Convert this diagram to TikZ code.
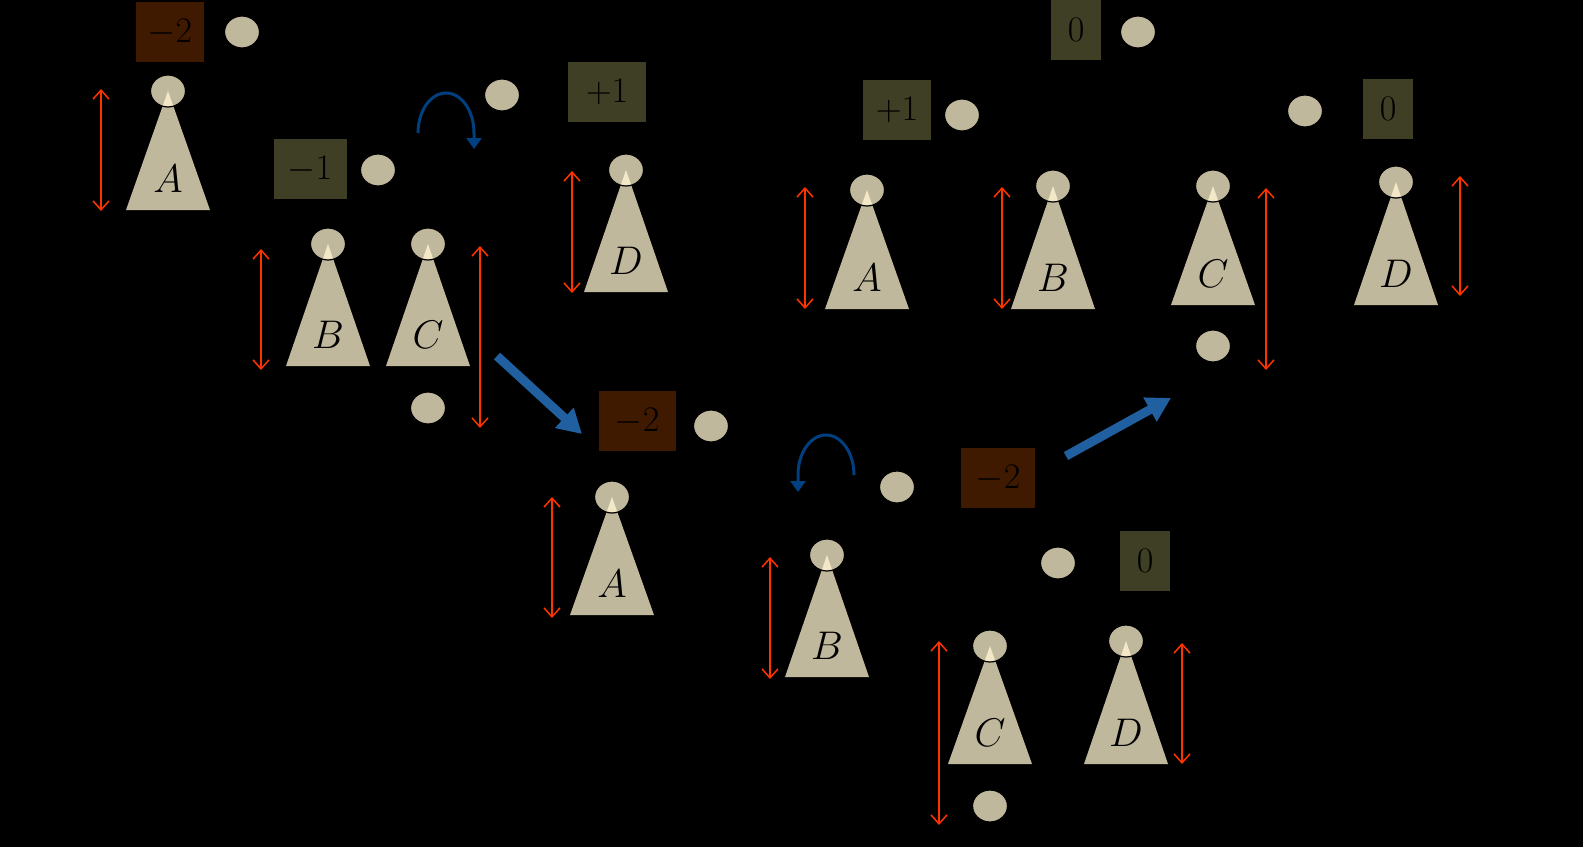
\documentclass[tikz,border=0pt]{standalone}
\usepackage{fix-cm}
\usetikzlibrary{arrows.meta,shapes.geometric}
\definecolor{beige}{RGB}{192,184,156}
\definecolor{cream}{RGB}{242,232,200}
\definecolor{brownc}{RGB}{64,26,0}
\definecolor{olivec}{RGB}{63,63,38}
\definecolor{redc}{RGB}{255,51,0}
\definecolor{bluedark}{RGB}{0,63,128}
\definecolor{bluethick}{RGB}{32,96,160}
\tikzset{
 circ/.style={ellipse, fill=beige, draw=black, line width=1.2pt, minimum width=35pt, minimum height=32pt, inner sep=0pt},
 lab/.style={inner sep=0pt, text=black, font=\fontsize{36}{40}\selectfont},
 treelab/.style={inner sep=0pt, text=black, font=\fontsize{40}{44}\selectfont},
 bal/.style={lab, minimum height=60pt},
 hgt/.style={draw=redc, line width=1.5pt, {Straight Barb[length=9pt,width=16pt]}-{Straight Barb[length=9pt,width=16pt]}},
 turnarrow/.style={draw=bluedark, line width=3pt, -{Triangle[length=11pt,width=15pt]}},
 bigarrow/.style={draw=bluethick, line width=9pt, -{Triangle[length=24pt,width=26pt]}},
}
\newcommand\subtr[5]{%
 \fill[beige] (#2,#3) -- ({#2-42},#4) -- ({#2+42},#4) -- cycle;
 \node[circ] (#1) at (#2,#3) {};
 \begin{scope}
  \clip (#2,#3) ellipse[x radius=16.5, y radius=15];
  \fill[cream] (#2,#3) -- ({#2-42},#4) -- ({#2+42},#4) -- cycle;
 \end{scope}
 \node[treelab] (#1l) at (#2,{#4-31}) {$#5$};
}
\begin{document}
\begin{tikzpicture}[x=1pt,y=-1pt]
\fill[black] (0,0) rectangle (1583,847);
\useasboundingbox (0,0) rectangle (1583,847);

% ---------- tree 1 ----------
\node[circ] (r1) at (242,32) {};
\node[bal, fill=brownc, minimum width=68pt] (r1b) at (170,32) {$-2$};
\subtr{a1}{168}{91}{210}{A}
\node[circ] (n1) at (378,170) {};
\node[bal, fill=olivec, minimum width=73pt] (n1b) at (310,169) {$-1$};
\subtr{b1}{328}{244}{366}{B}
\subtr{c1}{428}{244}{366}{C}
\node[circ] (x1) at (428,408) {};
\node[circ] (m1) at (502,95) {};
\node[bal, fill=olivec, minimum width=78pt] (m1b) at (607,92) {$+1$};
\subtr{d1}{626}{170}{292}{D}
\draw[hgt] (101,89) -- (101,211);
\draw[hgt] (261,249) -- (261,370);
\draw[hgt] (480,246) -- (480,428);
\draw[hgt] (572,171) -- (572,293);
\draw[turnarrow] (418,133) arc[start angle=180, end angle=360, x radius=28, y radius=40] -- (474,149);
\coordinate (s1) at (497,356);
\coordinate (t1) at (582,434);
\draw[bigarrow] (s1) -- (t1);

% ---------- tree 2 ----------
\node[circ] (n2) at (711,426) {};
\node[bal, fill=brownc, minimum width=77pt] (n2b) at (637,421) {$-2$};
\node[circ] (r2) at (897,487) {};
\node[bal, fill=brownc, minimum width=74pt] (r2b) at (998,478) {$-2$};
\subtr{a2}{612}{497}{615}{A}
\subtr{b2}{827}{555}{677}{B}
\node[circ] (m2) at (1058,563) {};
\node[bal, fill=olivec, minimum width=50pt] (m2b) at (1145,561) {$0$};
\subtr{c2}{990}{646}{764}{C}
\node[circ] (x2) at (990,806) {};
\subtr{d2}{1126}{641}{764}{D}
\draw[hgt] (552,497) -- (552,618);
\draw[hgt] (770,557) -- (770,679);
\draw[hgt] (939,641) -- (939,825);
\draw[hgt] (1182,643) -- (1182,764);
\draw[turnarrow] (854,475) arc[start angle=360, end angle=180, x radius=28, y radius=40] -- (798,492);
\coordinate (s2) at (1066,456);
\coordinate (t2) at (1171,398);
\draw[bigarrow] (s2) -- (t2);

% ---------- tree 3 ----------
\node[circ] (r3) at (1138,32) {};
\node[bal, fill=olivec, minimum width=50pt] (r3b) at (1076,30) {$0$};
\node[circ] (n3) at (962,115) {};
\node[bal, fill=olivec, minimum width=68pt] (n3b) at (897,110) {$+1$};
\subtr{a3}{867}{190}{309}{A}
\subtr{b3}{1053}{186}{309}{B}
\node[circ] (m3) at (1305,111) {};
\node[bal, fill=olivec, minimum width=50pt] (m3b) at (1388,109) {$0$};
\subtr{c3}{1213}{186}{305}{C}
\node[circ] (x3) at (1213,346) {};
\subtr{d3}{1396}{182}{305}{D}
\draw[hgt] (805,187) -- (805,309);
\draw[hgt] (1002,187) -- (1002,309);
\draw[hgt] (1266,188) -- (1266,370);
\draw[hgt] (1460,176) -- (1460,296);
\end{tikzpicture}
\end{document}
